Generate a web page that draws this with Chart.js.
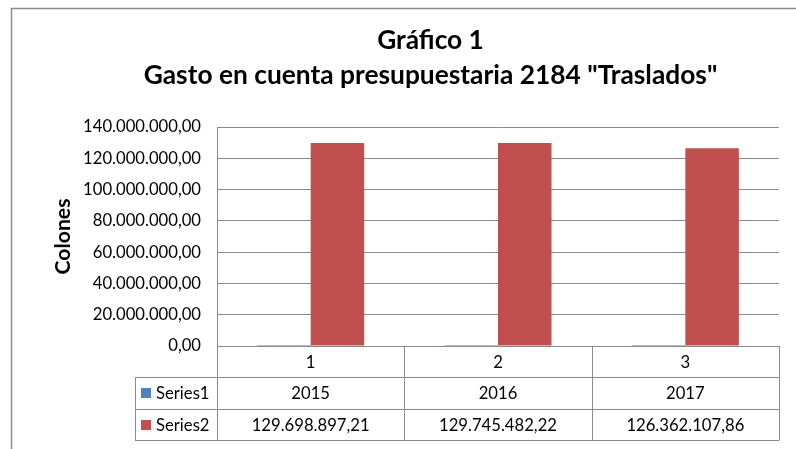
<!DOCTYPE html>
<html>
<head>
<meta charset="utf-8">
<script src="https://cdn.jsdelivr.net/npm/chart.js@4.4.1/dist/chart.umd.min.js"></script>
<style>
  html, body { margin: 0; padding: 0; background: #fff; }
  #wrap { width: 796px; height: 449px; position: relative; }
</style>
</head>
<body>
<div id="wrap"><canvas id="c"></canvas></div>
<script>
// ---- data ----
const categories = ['1', '2', '3'];
const seriesNames = ['Series1', 'Series2'];
const series1 = [2015, 2016, 2017];
const series2 = [129698897.21, 129745482.22, 126362107.86];
const seriesDecimals = [null, 2];
const yMin = 0, yMax = 140000000, yStep = 20000000;
const titleLines = ['Gráfico 1', 'Gasto en cuenta presupuestaria 2184 "Traslados"'];
const yTitle = 'Colones';

const seriesValues = [series1, series2];
const seriesColors = ['#4F81BD', '#C0504D'];
const FAMILY = 'Lato, "Liberation Sans", sans-serif';
const LINE = '#8a8a8a';

function fmt(v, d) {
  if (d === null) return String(v);
  const s = Number(v).toFixed(d);
  let [i, f] = s.split('.');
  i = i.replace(/\B(?=(\d{3})+(?!\d))/g, '.');
  return f ? i + ',' + f : i;
}

const mctx = document.createElement('canvas').getContext('2d');
function fit(text, weight, target) {
  mctx.font = weight + ' 100px ' + FAMILY;
  return 100 * target / mctx.measureText(text).width;
}
const tickSize = fit('140.000.000,00', 'normal', 118);
const titleSize = fit(titleLines[1], 'bold', 574);
const yTitleSize = fit(yTitle, 'bold', 76);

const titleShift = {
  id: 'titleShift',
  afterLayout(chart) {
    if (chart.titleBlock) {
      chart.titleBlock.left = 82;
      chart.titleBlock.right = 779;
    }
  }
};

const tablePlugin = {
  id: 'dataTable',
  afterDraw(chart) {
    const ctx = chart.ctx;
    const ca = chart.chartArea;
    const xs = chart.scales.x;
    const n = categories.length;
    const colW = (ca.right - ca.left) / n;
    const rowTop = [ca.bottom, 377, 409, 440];
    const legendLeft = 135;
    ctx.save();
    // outer chart border
    ctx.strokeStyle = '#8c8c8c';
    ctx.lineWidth = 1.5;
    ctx.beginPath();
    ctx.moveTo(11.5, 449);
    ctx.lineTo(11.5, 8.5);
    ctx.lineTo(796, 8.5);
    ctx.stroke();

    ctx.strokeStyle = LINE;
    ctx.lineWidth = 1;
    ctx.beginPath();
    ctx.moveTo(ca.left, Math.round(rowTop[0]) + 0.5); ctx.lineTo(ca.right, Math.round(rowTop[0]) + 0.5);
    for (let r = 1; r < rowTop.length; r++) {
      ctx.moveTo(legendLeft, rowTop[r] + 0.5); ctx.lineTo(ca.right, rowTop[r] + 0.5);
    }
    ctx.moveTo(legendLeft + 0.5, rowTop[1]); ctx.lineTo(legendLeft + 0.5, rowTop[3] + 0.5);
    for (let k = 0; k <= n; k++) {
      const x = Math.round(ca.left + k * colW) + 0.5;
      ctx.moveTo(x, rowTop[0]); ctx.lineTo(x, rowTop[3] + 0.5);
    }
    ctx.stroke();

    ctx.fillStyle = '#000';
    ctx.font = 'normal ' + tickSize.toFixed(2) + 'px ' + FAMILY;
    ctx.textAlign = 'center';
    ctx.textBaseline = 'middle';
    for (let i = 0; i < n; i++) {
      const cx = xs.getPixelForValue(i);
      ctx.fillText(categories[i], cx, (rowTop[0] + rowTop[1]) / 2 + 1);
      for (let s = 0; s < seriesValues.length; s++) {
        ctx.fillText(fmt(seriesValues[s][i], seriesDecimals[s]), cx, (rowTop[s + 1] + rowTop[s + 2]) / 2 + 1);
      }
    }
    ctx.textAlign = 'left';
    for (let s = 0; s < seriesNames.length; s++) {
      const cy = (rowTop[s + 1] + rowTop[s + 2]) / 2;
      ctx.fillStyle = seriesColors[s];
      ctx.fillRect(141, Math.round(cy) - 5, 10, 10);
      ctx.fillStyle = '#000';
      ctx.fillText(seriesNames[s], 156, cy + 1);
    }
    ctx.restore();
  }
};

new Chart(document.getElementById('c'), {
  type: 'bar',
  data: {
    labels: categories,
    datasets: seriesNames.map((name, s) => ({
      label: name,
      data: seriesValues[s],
      backgroundColor: seriesColors[s],
      borderWidth: 0,
      categoryPercentage: 2 / 3.5,
      barPercentage: 1
    }))
  },
  options: {
    responsive: true,
    maintainAspectRatio: false,
    animation: false,
    layout: { padding: { top: 0, right: 17, bottom: 103, left: 0 } },
    plugins: {
      legend: { display: false },
      tooltip: { enabled: false },
      title: {
        display: true,
        text: titleLines,
        color: '#000',
        font: { family: FAMILY, size: titleSize, weight: 'bold', lineHeight: 35 / titleSize },
        padding: { top: 22.5, bottom: 34.5 }
      }
    },
    scales: {
      x: { display: false },
      y: {
        min: yMin,
        max: yMax,
        ticks: {
          stepSize: yStep,
          color: '#000',
          padding: 16,
          font: { family: FAMILY, size: tickSize },
          callback: (v) => fmt(v, 2)
        },
        grid: { color: LINE, drawTicks: false, lineWidth: 1 },
        border: { display: true, color: LINE },
        title: {
          display: true,
          text: yTitle,
          color: '#000',
          font: { family: FAMILY, size: yTitleSize, weight: 'bold', lineHeight: 1.2 },
          padding: { top: 63 - yTitleSize * 0.6, bottom: 0 }
        },
        afterFit(scale) { scale.width = 217; }
      }
    }
  },
  plugins: [titleShift, tablePlugin]
});
</script>
</body>
</html>
